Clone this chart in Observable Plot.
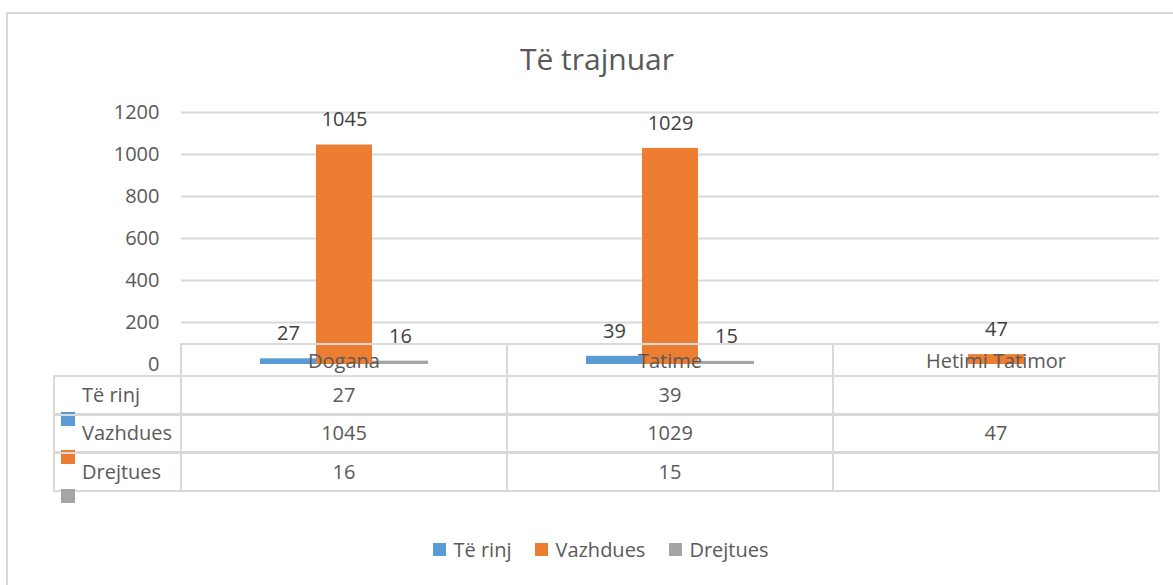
<!DOCTYPE html>
<html>
<head>
<meta charset="utf-8">
<script src="https://cdn.jsdelivr.net/npm/d3@7"></script>
<script src="https://cdn.jsdelivr.net/npm/@observablehq/plot@0.6"></script>
<style>
  html, body { margin: 0; padding: 0; background: #fff; overflow: hidden; }
  #wrap { position: relative; width: 1173px; height: 585px; font-family: "Open Sans", sans-serif; color: #595959; }
  #frame { position: absolute; left: 6px; top: 12px; width: 1180px; height: 600px; border: 2px solid #d9d9d9; box-sizing: border-box; }
  #title { position: absolute; left: 0; width: 1194px; top: 38px; text-align: center; font-size: 30px; }
  #chart { position: absolute; left: 0; top: 0; }
  .cell { position: absolute; box-sizing: border-box; font-size: 20px; display: flex; align-items: center; }
  .key { position: absolute; width: 14px; height: 14px; }
  #legend { position: absolute; top: 536px; left: 0; width: 1202px; display: flex; justify-content: center; gap: 24px; font-size: 20px; }
  #legend .item { display: flex; align-items: center; gap: 7px; }
  #legend .sw { width: 13px; height: 13px; display: inline-block; }
</style>
</head>
<body>
<div id="wrap">
  <div id="frame"></div>
  <div id="title">Të trajnuar</div>
  <div id="chart"></div>
  <div id="table"></div>
  <div id="legend"></div>
</div>
<script>
const categories = ["Dogana", "Tatime", "Hetimi Tatimor"];
const series = ["Të rinj", "Vazhdues", "Drejtues"];
const teRinj = [27, 39, null];
const vazhdues = [1045, 1029, 47];
const drejtues = [16, 15, null];
const yTicks = [0, 200, 400, 600, 800, 1000, 1200];
const colors = ["#5B9BD5", "#ED7D31", "#A5A5A5"];

const seriesValues = [teRinj, vazhdues, drejtues];
const data = [];
categories.forEach((c, i) => {
  series.forEach((s, j) => {
    const v = seriesValues[j][i];
    if (v != null) data.push({category: c, series: s, value: v});
  });
});

const W = 1173, H = 380;
const chart = Plot.plot({
  width: W,
  height: H,
  marginTop: 112,
  marginBottom: 16,
  marginLeft: 180,
  marginRight: 14,
  style: {fontFamily: "'Open Sans', sans-serif", fontSize: "20px", color: "#595959", background: "transparent"},
  fx: {domain: categories, padding: 0, axis: null},
  x: {domain: series, paddingInner: 0, paddingOuter: 1.37, axis: null},
  y: {domain: [0, 1200], axis: null},
  color: {domain: series, range: colors},
  marks: [
    Plot.gridY(yTicks.filter(d => d > 0), {stroke: "#d9d9d9", strokeOpacity: 1, strokeWidth: 2}),
    Plot.axisY(yTicks, {tickSize: 0, tickPadding: 22, fontSize: 20, fill: "#595959", label: null, tickFormat: d => String(d)}),
    Plot.barY(data, {fx: "category", x: "series", y: "value", fill: "series"}),
    Plot.text(data, {fx: "category", x: "series", y: "value", text: d => String(d.value), dy: -25, fontSize: 20, fill: "#404040"})
  ]
});
document.getElementById("chart").appendChild(chart);

// Data table aligned to the facet scale
const fx = chart.scale("fx");
const bw = fx.bandwidth;
const table = document.getElementById("table");
const line = "2px solid #d9d9d9";
const headTop = 343, headBottom = 375;
const rowEdges = [375, 414, 452, 491];
const leftX = 53;
function cell(x, y, w, h, text, styles) {
  const d = document.createElement("div");
  d.className = "cell";
  d.style.left = x + "px"; d.style.top = y + "px";
  d.style.width = w + "px"; d.style.height = h + "px";
  Object.assign(d.style, styles || {});
  if (text != null) d.textContent = text;
  table.appendChild(d);
  return d;
}
// header row
categories.forEach((c, i) => {
  const x0 = fx.apply(c);
  cell(x0 - 1, headTop, bw + 2, headBottom - headTop + 1, c, {
    justifyContent: "center", borderLeft: line, borderRight: line, borderTop: line, alignItems: "flex-end", paddingBottom: "2px"
  });
});
// series rows
series.forEach((s, j) => {
  const y0 = rowEdges[j], y1 = rowEdges[j + 1];
  const firstX = fx.apply(categories[0]);
  cell(leftX, y0, firstX - leftX + 1, y1 - y0 + 1, s, {
    border: line, paddingLeft: "27px", paddingBottom: "2px"
  });
  const k = document.createElement("div");
  k.className = "key";
  k.style.left = "61px"; k.style.top = (y1 - 2) + "px";
  k.style.background = colors[j];
  table.appendChild(k);
  categories.forEach((c, i) => {
    const v = seriesValues[j][i];
    cell(fx.apply(c) - 1, y0, bw + 2, y1 - y0 + 1, v == null ? "" : String(v), {
      border: line, justifyContent: "center", paddingBottom: "2px"
    });
  });
});

// legend
const legend = document.getElementById("legend");
series.forEach((s, j) => {
  const it = document.createElement("span");
  it.className = "item";
  const sw = document.createElement("span");
  sw.className = "sw"; sw.style.background = colors[j];
  const t = document.createElement("span");
  t.textContent = s;
  it.appendChild(sw); it.appendChild(t);
  legend.appendChild(it);
});
</script>
</body>
</html>
